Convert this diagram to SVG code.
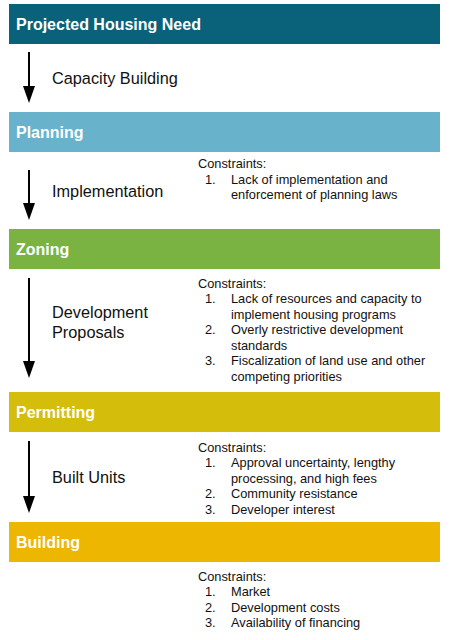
<svg xmlns="http://www.w3.org/2000/svg" width="451" height="640" viewBox="0 0 451 640">
<style>
.bar-text{font-family:"Liberation Sans",Arial,sans-serif;font-size:16px;font-weight:bold;fill:#ffffff}
.lbl{font-family:"Liberation Sans",Arial,sans-serif;font-size:16.3px;fill:#111111}
.con{font-family:"Liberation Sans",Arial,sans-serif;font-size:12.8px;fill:#111111}
.arrow{stroke:#000000;stroke-width:2;fill:none}
</style>
<defs>
<marker id="head" markerUnits="userSpaceOnUse" markerWidth="17" markerHeight="12" refX="7" refY="6" orient="auto">
<path d="M0,0 L17,6 L0,12 z" fill="#000000"/>
</marker>
</defs>
<rect width="451" height="640" fill="#ffffff"/>
<g id="node-projected">
<rect x="9" y="4" width="431" height="40" fill="#0a617a"/>
<text class="bar-text" x="16" y="30">Projected Housing Need</text>
</g>
<g id="node-planning">
<rect x="9" y="112" width="431" height="40" fill="#68b2cb"/>
<text class="bar-text" x="16" y="138">Planning</text>
</g>
<g id="node-zoning">
<rect x="9" y="229" width="431" height="40" fill="#7ab342"/>
<text class="bar-text" x="16" y="255">Zoning</text>
</g>
<g id="node-permitting">
<rect x="9" y="392" width="431" height="40" fill="#d4bd0b"/>
<text class="bar-text" x="16" y="418">Permitting</text>
</g>
<g id="node-building">
<rect x="9" y="522" width="431" height="40" fill="#edb600"/>
<text class="bar-text" x="16" y="548">Building</text>
</g>
<g id="connectors">
<line class="arrow" x1="29" y1="52" x2="29" y2="93" marker-end="url(#head)"/>
<line class="arrow" x1="29" y1="170" x2="29" y2="210" marker-end="url(#head)"/>
<line class="arrow" x1="29" y1="278" x2="29" y2="368" marker-end="url(#head)"/>
<line class="arrow" x1="29" y1="441" x2="29" y2="503" marker-end="url(#head)"/>
<text class="lbl" x="52" y="84">Capacity Building</text>
<text class="lbl" x="52" y="197">Implementation</text>
<text class="lbl" x="52" y="318">Development</text>
<text class="lbl" x="52" y="338">Proposals</text>
<text class="lbl" x="52" y="483">Built Units</text>
</g>
<g id="constraints-planning" class="con">
<text x="198" y="168">Constraints:</text>
<text x="205" y="184">1.</text>
<text x="231" y="184">Lack of implementation and</text>
<text x="231" y="199">enforcement of planning laws</text>
</g>
<g id="constraints-zoning" class="con">
<text x="198" y="288">Constraints:</text>
<text x="205" y="303">1.</text>
<text x="231" y="303">Lack of resources and capacity to</text>
<text x="231" y="319">implement housing programs</text>
<text x="205" y="334">2.</text>
<text x="231" y="334">Overly restrictive development</text>
<text x="231" y="350">standards</text>
<text x="205" y="365">3.</text>
<text x="231" y="365">Fiscalization of land use and other</text>
<text x="231" y="381">competing priorities</text>
</g>
<g id="constraints-permitting" class="con">
<text x="198" y="452">Constraints:</text>
<text x="205" y="467">1.</text>
<text x="231" y="467">Approval uncertainty, lengthy</text>
<text x="231" y="483">processing, and high fees</text>
<text x="205" y="498">2.</text>
<text x="231" y="498">Community resistance</text>
<text x="205" y="514">3.</text>
<text x="231" y="514">Developer interest</text>
</g>
<g id="constraints-building" class="con">
<text x="198" y="581">Constraints:</text>
<text x="205" y="596">1.</text>
<text x="231" y="596">Market</text>
<text x="205" y="612">2.</text>
<text x="231" y="612">Development costs</text>
<text x="205" y="627">3.</text>
<text x="231" y="627">Availability of financing</text>
</g>
</svg>
